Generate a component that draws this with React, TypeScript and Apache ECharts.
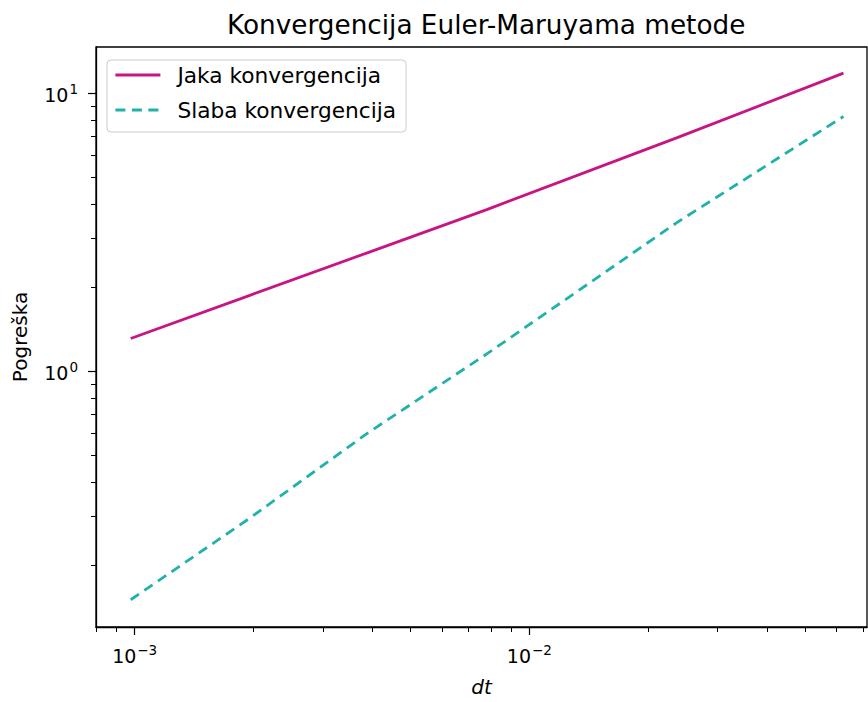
import React, { useEffect, useRef } from "react";
import * as echarts from "echarts";

const dt = [0.000977, 0.00195, 0.0039, 0.0078, 0.0237, 0.0625];
const strongErr = [1.31, 1.87, 2.67, 3.81, 6.92, 11.8];
const weakErr = [0.1506, 0.295, 0.6, 1.153, 3.43, 8.24];

const xMajor = [0.001, 0.01];
const xMinor = [0.0008, 0.0009, 0.002, 0.003, 0.004, 0.005, 0.006, 0.007, 0.008, 0.009, 0.02, 0.03, 0.04, 0.05, 0.06, 0.07];
const yMajor = [1, 10];
const yMinor = [0.2, 0.3, 0.4, 0.5, 0.6, 0.7, 0.8, 0.9, 2, 3, 4, 5, 6, 7, 8, 9];

const titleText = "Konvergencija Euler-Maruyama metode";
const seriesNames = ["Jaka konvergencija", "Slaba konvergencija"];

const FONT = "DejaVu Sans";

const powLabel = (v: number) => {
  const e = Math.round(Math.log10(v));
  const es = e < 0 ? "\u2212" + -e : String(e);
  return `{b|10}{s|${es}}`;
};

const rich = {
  b: { fontSize: 19, fontFamily: FONT, color: "#000", verticalAlign: "bottom", padding: [3, 0, 0, 0] },
  s: { fontSize: 13.5, fontFamily: FONT, color: "#000", verticalAlign: "top", padding: [0, 0, 0, 1] },
};

export default function App() {
  const ref = useRef<HTMLDivElement>(null);
  useEffect(() => {
    if (!ref.current) return;
    const chart = echarts.init(ref.current, undefined, { renderer: "svg" });
    const xMin = 0.000798, xMax = 0.0717, yMin = 0.1202, yMax = 14.65;
    chart.setOption({
      animation: false,
      backgroundColor: "#fff",
      title: {
        text: titleText,
        left: 222,
        top: 7,
        textStyle: { fontFamily: FONT, fontSize: 26.3, fontWeight: "normal", color: "#000" },
      },
      legend: {
        orient: "vertical",
        left: 107,
        top: 60,
        padding: [3, 10, 10, 7],
        itemGap: 11,
        itemWidth: 45,
        itemHeight: 14,
        backgroundColor: "rgba(255,255,255,0.8)",
        borderColor: "#cccccc",
        borderWidth: 1,
        borderRadius: 4,
        data: seriesNames,
        itemStyle: { opacity: 0 },
        lineStyle: { width: 2.8 },
        textStyle: { fontFamily: FONT, fontSize: 21.7, color: "#000", padding: [0, 0, 0, 12], lineHeight: 24 },
      },
      grid: {
        left: 96,
        top: 47,
        right: 1,
        bottom: 73,
        show: true,
        borderColor: "#000",
        borderWidth: 1.3,
        backgroundColor: "transparent",
      },
      xAxis: [
        {
          type: "log",
          logBase: 10,
          min: xMin,
          max: xMax,
          name: "dt",
          nameLocation: "middle",
          nameGap: 50,
          nameTextStyle: { fontFamily: FONT, fontSize: 20, fontStyle: "italic", color: "#000" },
          axisLine: { show: true, lineStyle: { color: "#000", width: 1.3 } },
          axisTick: { show: true, customValues: xMajor, length: 8, lineStyle: { color: "#000", width: 1.2 } },
          axisLabel: { show: true, customValues: xMajor, margin: 16, formatter: powLabel, rich },
          splitLine: { show: false },
        },
        {
          type: "log",
          logBase: 10,
          min: xMin,
          max: xMax,
          position: "bottom",
          axisLine: { show: false },
          axisTick: { show: true, customValues: xMinor, length: 5, lineStyle: { color: "#000", width: 1 } },
          axisLabel: { show: false },
          splitLine: { show: false },
        },
      ],
      yAxis: [
        {
          type: "log",
          logBase: 10,
          min: yMin,
          max: yMax,
          name: "Pogreška",
          nameLocation: "middle",
          nameGap: 66,
          nameRotate: 90,
          nameTextStyle: { fontFamily: FONT, fontSize: 20, color: "#000" },
          axisLine: { show: true, lineStyle: { color: "#000", width: 1.3 } },
          axisTick: { show: true, customValues: yMajor, length: 8, lineStyle: { color: "#000", width: 1.2 } },
          axisLabel: { show: true, customValues: yMajor, margin: 18, formatter: powLabel, rich },
          splitLine: { show: false },
        },
        {
          type: "log",
          logBase: 10,
          min: yMin,
          max: yMax,
          position: "left",
          axisLine: { show: false },
          axisTick: { show: true, customValues: yMinor, length: 5, lineStyle: { color: "#000", width: 1 } },
          axisLabel: { show: false },
          splitLine: { show: false },
        },
      ],
      series: [
        {
          name: seriesNames[0],
          type: "line",
          xAxisIndex: 0,
          yAxisIndex: 0,
          data: dt.map((x, i) => [x, strongErr[i]]),
          symbol: "none",
          lineStyle: { color: "#C71585", width: 2.8 },
          itemStyle: { color: "#C71585" },
        },
        {
          name: seriesNames[1],
          type: "line",
          xAxisIndex: 0,
          yAxisIndex: 0,
          data: dt.map((x, i) => [x, weakErr[i]]),
          symbol: "none",
          lineStyle: { color: "#20B2AA", width: 2.8, type: [10, 6.5] },
          itemStyle: { color: "#20B2AA" },
        },
      ],
    });
    return () => chart.dispose();
  }, []);
  return (
    <div
      ref={ref}
      style={{ position: "fixed", left: 0, top: 0, width: 868, height: 702, background: "#fff" }}
    />
  );
}
